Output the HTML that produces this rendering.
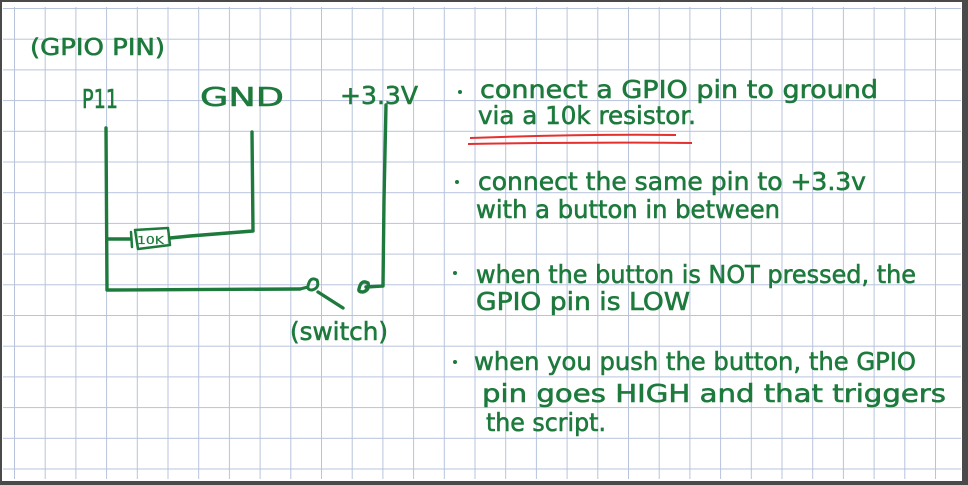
<!DOCTYPE html>
<html><head><meta charset="utf-8"><style>
html,body{margin:0;padding:0;background:#fff;}
svg{display:block;}
text{font-family:"DejaVu Sans","Liberation Sans",sans-serif;fill:#1d7a3c;stroke:#1d7a3c;stroke-width:0.6;}
</style></head><body>
<svg width="968" height="485" viewBox="0 0 968 485" xmlns="http://www.w3.org/2000/svg">
<defs>
<pattern id="g" x="14" y="8" width="30.7" height="30.7" patternUnits="userSpaceOnUse">
<path d="M0 0V30.7M0 0H30.7" stroke="#b7c3dc" stroke-width="2" fill="none"/>
</pattern>
</defs>
<rect x="0" y="0" width="968" height="485" fill="#4a4a4a"/>
<rect x="2" y="2" width="960" height="479" fill="#fff"/>
<rect x="3" y="7" width="958" height="472" fill="url(#g)"/>

<g fill="none" stroke="#1d7a3c" stroke-width="3.4" stroke-linecap="round" stroke-linejoin="round">
<path d="M106 128 L107 290 L300 289"/>
<path d="M107 239 L131 239"/>
<path d="M131 232 L132 247 M135 230 L168 228 L170 245 L138 249 Z" stroke-width="2.5"/>
<path d="M170 238 L190 236 L253 231 L252 132"/>
<path d="M300 289 L308 287 M308 286 q2 -10 9 -6 q3 8 -5 10 q-5 0 -4 -4" stroke-width="3"/>
<path d="M318 292 L343 308"/>
<path d="M359 289 q2 -10 9 -6 q2 7 -5 9 q-5 0 -4 -3 M366 287 L383 286 L384 200 L386 105"/>
</g>
<g stroke="#e53030" stroke-width="2" fill="none">
<path d="M470 138 Q580 134 676 135"/>
<path d="M468 144 Q590 142 692 143"/>
</g>
<g fill="#1d7a3c">
<circle cx="460" cy="92" r="2"/><circle cx="457" cy="182" r="2"/><circle cx="455" cy="273" r="2"/><circle cx="455" cy="362" r="2"/>
</g>

<text x="30" y="55" font-size="23" textLength="135" lengthAdjust="spacingAndGlyphs">(GPIO PIN)</text>
<text x="82" y="108" font-size="26" textLength="36" lengthAdjust="spacingAndGlyphs">P11</text>
<text x="200" y="106" font-size="26" textLength="84" lengthAdjust="spacingAndGlyphs">GND</text>
<text x="340" y="104" font-size="25" textLength="78" lengthAdjust="spacingAndGlyphs">+3.3V</text>
<text x="137" y="244" font-size="11" textLength="27" lengthAdjust="spacingAndGlyphs" style="stroke-width:0.2">10K</text>
<text x="290" y="340" font-size="25" textLength="98" lengthAdjust="spacingAndGlyphs">(switch)</text>

<g font-size="25">
<text x="480" y="98" textLength="398" lengthAdjust="spacingAndGlyphs">connect a GPIO pin to ground</text>
<text x="478" y="124" textLength="218" lengthAdjust="spacingAndGlyphs">via a 10k resistor.</text>
<text x="478" y="190" textLength="388" lengthAdjust="spacingAndGlyphs">connect the same pin to +3.3v</text>
<text x="476" y="218" textLength="304" lengthAdjust="spacingAndGlyphs">with a button in between</text>
<text x="476" y="283" textLength="440" lengthAdjust="spacingAndGlyphs">when the button is NOT pressed, the</text>
<text x="476" y="310" textLength="214" lengthAdjust="spacingAndGlyphs">GPIO pin is LOW</text>
<text x="474" y="370" textLength="442" lengthAdjust="spacingAndGlyphs">when you push the button, the GPIO</text>
<text x="482" y="402" textLength="464" lengthAdjust="spacingAndGlyphs">pin goes HIGH and that triggers</text>
<text x="486" y="431" textLength="120" lengthAdjust="spacingAndGlyphs">the script.</text>
</g>
</svg>
</body></html>
